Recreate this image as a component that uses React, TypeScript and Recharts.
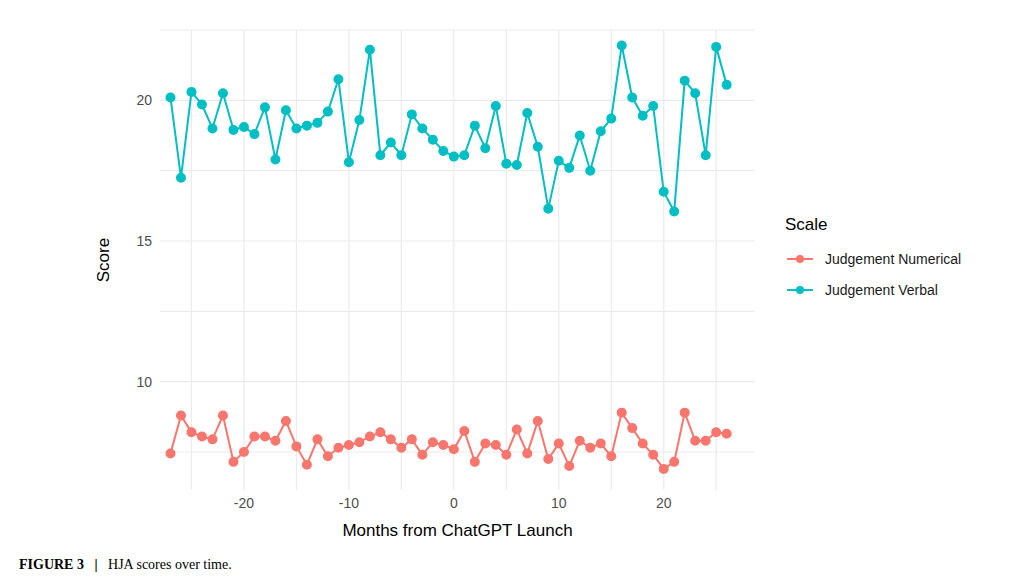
import React from 'react';
import { LineChart, Line, XAxis, YAxis, ReferenceLine, Label } from 'recharts';

const months = [
  -27, -26, -25, -24, -23, -22, -21, -20, -19, -18, -17, -16, -15, -14, -13, -12, -11, -10,
  -9, -8, -7, -6, -5, -4, -3, -2, -1, 0, 1, 2, 3, 4, 5, 6, 7, 8, 9, 10, 11, 12, 13, 14, 15,
  16, 17, 18, 19, 20, 21, 22, 23, 24, 25, 26,
];
const verbal = [
  20.1, 17.25, 20.3, 19.85, 19.0, 20.25, 18.95, 19.05, 18.8, 19.75, 17.9, 19.65, 19.0, 19.1,
  19.2, 19.6, 20.75, 17.8, 19.3, 21.8, 18.05, 18.5, 18.05, 19.5, 19.0, 18.6, 18.2, 18.0, 18.05,
  19.1, 18.3, 19.8, 17.75, 17.7, 19.55, 18.35, 16.15, 17.85, 17.6, 18.75, 17.5, 18.9, 19.35,
  21.95, 20.1, 19.45, 19.8, 16.75, 16.05, 20.7, 20.25, 18.05, 21.9, 20.55,
];
const numerical = [
  7.45, 8.8, 8.2, 8.05, 7.95, 8.8, 7.15, 7.5, 8.05, 8.05, 7.9, 8.6, 7.7, 7.05, 7.95, 7.35,
  7.65, 7.75, 7.85, 8.05, 8.2, 7.95, 7.65, 7.95, 7.4, 7.85, 7.75, 7.6, 8.25, 7.15, 7.8, 7.75,
  7.4, 8.3, 7.45, 8.6, 7.25, 7.8, 7.0, 7.9, 7.65, 7.8, 7.35, 8.9, 8.35, 7.8, 7.4, 6.9, 7.15,
  8.9, 7.9, 7.9, 8.2, 8.15,
];
const xTicks = [-25, -20, -15, -10, -5, 0, 5, 10, 15, 20, 25];
const yTicks = [7.5, 10, 12.5, 15, 17.5, 20, 22.5];

const data = months.map((m, i) => ({ month: m, num: numerical[i], verb: verbal[i] }));

const RED = '#F8766D';
const TEAL = '#00BFC4';
const font = 'Arial, "Liberation Sans", sans-serif';

export default function App() {
  return (
    <div style={{ position: 'absolute', left: 0, top: 0, width: 1023, height: 588, background: '#fff', fontFamily: font }}>
      <LineChart width={1023} height={545} data={data} margin={{ top: 30, right: 268, left: 100, bottom: 0 }}>
        {xTicks.map((t) => (
          <ReferenceLine key={'x' + t} x={t} stroke="#ebebeb" strokeWidth={1.2} />
        ))}
        {yTicks.map((t) => (
          <ReferenceLine key={'y' + t} y={t} stroke="#ebebeb" strokeWidth={1.2} />
        ))}
        <XAxis
          type="number"
          dataKey="month"
          domain={[-28, 28.7]}
          ticks={xTicks}
          interval={0}
          tickFormatter={(v) => (v % 10 === 0 ? String(v) : '')}
          axisLine={false}
          tickLine={false}
          height={55}
          tick={{ fill: '#4d4d4d', fontSize: 14 }}
        >
          <Label value="Months from ChatGPT Launch" position="insideBottom" offset={9} fill="#000" fontSize={17} />
        </XAxis>
        <YAxis
          type="number"
          domain={[6.15, 22.5]}
          ticks={yTicks}
          interval={0}
          tickFormatter={(v) => (v % 5 === 0 ? String(v) : '')}
          axisLine={false}
          tickLine={false}
          width={60}
          tick={{ fill: '#4d4d4d', fontSize: 14 }}
        >
          <Label value="Score" angle={-90} position="insideLeft" offset={3} fill="#000" fontSize={17} style={{ textAnchor: 'middle' }} />
        </YAxis>
        <Line dataKey="num" stroke={RED} strokeWidth={2} dot={{ r: 4, fill: RED, stroke: RED }} isAnimationActive={false} />
        <Line dataKey="verb" stroke={TEAL} strokeWidth={2} dot={{ r: 4, fill: TEAL, stroke: TEAL }} isAnimationActive={false} />
      </LineChart>
      <div style={{ position: 'absolute', left: 785, top: 215, fontSize: 17, color: '#000' }}>Scale</div>
      {[
        ['Judgement Numerical', RED, 259],
        ['Judgement Verbal', TEAL, 290],
      ].map(([t, c, y]) => (
        <div key={t as string} style={{ position: 'absolute', left: 785, top: (y as number) - 10, display: 'flex', alignItems: 'center', fontSize: 14, color: '#1a1a1a' }}>
          <svg width={30} height={20}>
            <line x1={2} y1={10} x2={28} y2={10} stroke={c as string} strokeWidth={2} />
            <circle cx={15} cy={10} r={4} fill={c as string} />
          </svg>
          <span style={{ marginLeft: 10 }}>{t}</span>
        </div>
      ))}
      <div style={{ position: 'absolute', left: 19, top: 557, fontFamily: '"Liberation Serif", serif', fontSize: 14 }}>
        <b>FIGURE 3</b>&nbsp;&nbsp;&nbsp;<b>|</b>&nbsp;&nbsp;&nbsp;HJA scores over time.
      </div>
    </div>
  );
}
